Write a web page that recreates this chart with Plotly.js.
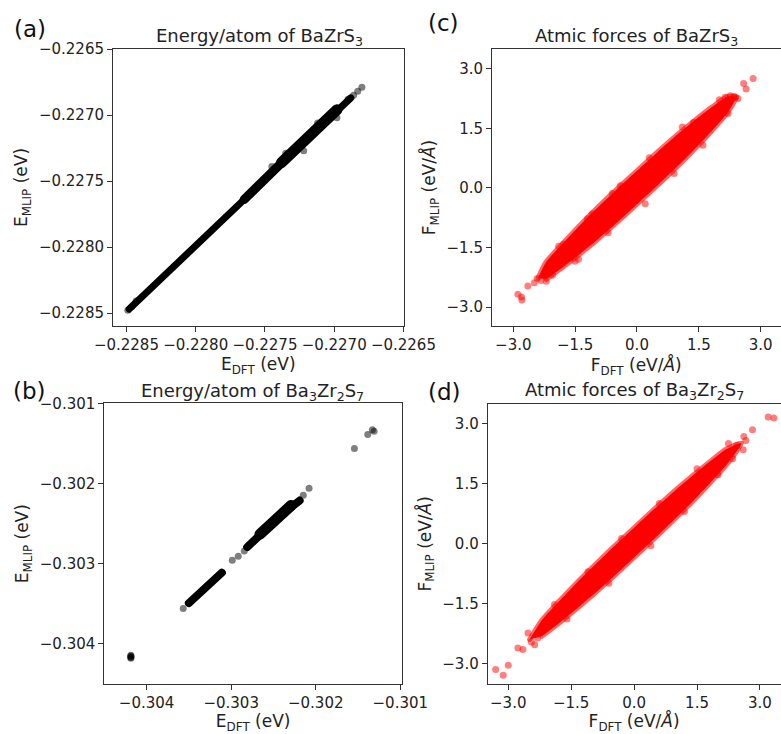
<!DOCTYPE html>
<html><head><meta charset="utf-8">
<script src="https://cdn.plot.ly/plotly-3.0.1.min.js"></script>
<style>
html,body{margin:0;padding:0;background:#fff}
.js-line{stroke-linecap:round !important;stroke-linejoin:round !important}
</style>
</head><body><div id="chart" style="width:781px;height:734px"></div>
<script>
// ---------- (a) Energy/atom of BaZrS3 ----------
const aCoreX = [-0.22848, -0.2282, -0.2279, -0.2276, -0.2274, -0.2272, -0.2270, -0.22688];
const aCoreY = [-0.22847, -0.22819, -0.22789, -0.22759, -0.22739, -0.22719, -0.22699, -0.22687];
const aMidX = [-0.22765, -0.22745, -0.22730];
const aMidY = [-0.22764, -0.22743, -0.22728];
const aWideX = [-0.22738, -0.22725, -0.22710, -0.22698];
const aWideY = [-0.22736, -0.22723, -0.22708, -0.22696];
const aPtsX = [-0.22849, -0.22846, -0.22843, -0.22680, -0.22683, -0.22686, -0.22690, -0.22722, -0.22735, -0.22712, -0.22745, -0.22698];
const aPtsY = [-0.22848, -0.22845, -0.22841, -0.22679, -0.22682, -0.22685, -0.22688, -0.22727, -0.22729, -0.22706, -0.22739, -0.22702];

// ---------- (b) Energy/atom of Ba3Zr2S7 ----------
const bSeg1X = [-0.30350, -0.30330, -0.30311];
const bSeg1Y = [-0.30349, -0.30330, -0.30311];
const bSeg2X = [-0.30281, -0.30260, -0.30240, -0.30219];
const bSeg2Y = [-0.30279, -0.30258, -0.30238, -0.30221];
const bWideX = [-0.30266, -0.30229];
const bWideY = [-0.30263, -0.30227];
const bPtsX = [-0.303567, -0.302987, -0.302916, -0.302845, -0.302147, -0.302079, -0.301543, -0.301385, -0.30133, -0.30131];
const bPtsY = [-0.303556, -0.302954, -0.302904, -0.302838, -0.302144, -0.302057, -0.301559, -0.301385, -0.301326, -0.301344];
const bClusterX = [-0.304186, -0.304186, -0.304186, -0.304186, -0.304186];
const bClusterY = [-0.30414, -0.30415, -0.30416, -0.30417, -0.30418];

// ---------- (c) Atmic forces of BaZrS3 (dense core outline + scattered points) ----------
const cOutlineX = [-2.40, -2.20, -1.80, -1.40, -1.00, -0.50, 0.00, 0.50, 1.00, 1.40, 1.80, 2.20, 2.40,
                   2.20, 1.80, 1.40, 1.00, 0.50, 0.00, -0.50, -1.00, -1.40, -1.80, -2.20];
const cOutlineY = [-2.27, -1.86, -1.40, -0.96, -0.54, -0.045, 0.43, 0.905, 1.36, 1.70, 2.02, 2.30, 2.29,
                   1.90, 1.42, 0.98, 0.56, 0.065, -0.41, -0.885, -1.34, -1.68, -2.00, -2.30];
const cPtsX = [2.587, 2.816, 2.646, -2.888, -2.791, -2.80, -2.646, -2.49, -2.33, -1.78, -1.417, -1.62, -0.405, 1.374, 2.21, 2.14, 2.26, 2.39, -1.09, 2.35, 2.45, -2.42, -2.20,
               -1.9, -1.2, -0.6, 0.3, 1.1, -1.5, -0.7, 0.2, 0.9, 1.6, 2.0, -2.05];
const cPtsY = [2.629, 2.755, 2.488, -2.680, -2.823, -2.75, -2.47, -2.39, -2.33, -1.42, -1.80, -1.76, 0.05, 1.646, 1.87, 2.28, 2.32, 2.28, -0.66, 2.30, 2.25, -2.28, -2.35,
               -1.47, -0.78, -0.14, 0.76, 1.53, -1.85, -1.13, -0.40, 0.36, 1.07, 2.22, -2.20];

// ---------- (d) Atmic forces of Ba3Zr2S7 ----------
const dOutlineX = [-2.49, -2.20, -1.80, -1.40, -1.00, -0.50, 0.00, 0.50, 1.00, 1.40, 1.80, 2.20, 2.56,
                   2.20, 1.80, 1.40, 1.00, 0.50, 0.00, -0.50, -1.00, -1.40, -1.80, -2.20];
const dOutlineY = [-2.39, -1.91, -1.45, -1.01, -0.595, -0.09, 0.395, 0.88, 1.345, 1.70, 2.04, 2.36, 2.51,
                   1.96, 1.50, 1.06, 0.645, 0.14, -0.345, -0.83, -1.295, -1.65, -1.99, -2.31];
const dPtsX = [3.196, 3.332, 2.823, 2.616, 2.664, 2.60, 2.45, -3.30, -3.12, -3.00, -2.77, -2.65, -2.53, -2.37, -2.45, -2.30,
               -1.9, -1.1, -0.3, 0.6, 1.5, -1.6, -0.6, 0.4, 1.2, 2.0, 2.35, 2.25];
const dPtsY = [3.157, 3.132, 2.841, 2.674, 2.574, 2.342, 2.45, -3.14, -3.28, -3.03, -2.60, -2.64, -2.23, -2.52, -2.45, -2.35,
               -1.52, -0.70, 0.13, 1.00, 1.87, -1.88, -0.99, -0.05, 0.80, 1.72, 2.12, 2.50];

const cTicks = [-3.0, -1.5, 0.0, 1.5, 3.0];

const FONT = 'DejaVu Sans';
const black = 'rgba(0,0,0,0.5)';
const red = 'rgba(255,0,0,0.5)';

const data = [
  {x: aCoreX, y: aCoreY, xaxis: 'x', yaxis: 'y', mode: 'lines', line: {color: '#000', width: 7}, hoverinfo: 'skip'},
  {x: aMidX, y: aMidY, xaxis: 'x', yaxis: 'y', mode: 'lines', line: {color: '#000', width: 9}, hoverinfo: 'skip'},
  {x: aWideX, y: aWideY, xaxis: 'x', yaxis: 'y', mode: 'lines', line: {color: '#000', width: 11}, hoverinfo: 'skip'},
  {x: aPtsX, y: aPtsY, xaxis: 'x', yaxis: 'y', mode: 'markers', marker: {color: black, size: 7}},

  {x: cOutlineX, y: cOutlineY, xaxis: 'x2', yaxis: 'y2', mode: 'lines', fill: 'toself', fillcolor: '#ff0000', line: {color: 'rgba(255,0,0,0.6)', width: 5, shape: 'spline', smoothing: 0.6}, hoverinfo: 'skip'},
  {x: cPtsX, y: cPtsY, xaxis: 'x2', yaxis: 'y2', mode: 'markers', marker: {color: red, size: 7}},

  {x: bSeg1X, y: bSeg1Y, xaxis: 'x3', yaxis: 'y3', mode: 'lines', line: {color: '#000', width: 8}, hoverinfo: 'skip'},
  {x: bSeg2X, y: bSeg2Y, xaxis: 'x3', yaxis: 'y3', mode: 'lines', line: {color: '#000', width: 8}, hoverinfo: 'skip'},
  {x: bWideX, y: bWideY, xaxis: 'x3', yaxis: 'y3', mode: 'lines', line: {color: '#000', width: 11}, hoverinfo: 'skip'},
  {x: bPtsX, y: bPtsY, xaxis: 'x3', yaxis: 'y3', mode: 'markers', marker: {color: black, size: 7}},
  {x: bClusterX, y: bClusterY, xaxis: 'x3', yaxis: 'y3', mode: 'markers', marker: {color: black, size: 7}},

  {x: dOutlineX, y: dOutlineY, xaxis: 'x4', yaxis: 'y4', mode: 'lines', fill: 'toself', fillcolor: '#ff0000', line: {color: 'rgba(255,0,0,0.6)', width: 5, shape: 'spline', smoothing: 0.6}, hoverinfo: 'skip'},
  {x: dPtsX, y: dPtsY, xaxis: 'x4', yaxis: 'y4', mode: 'markers', marker: {color: red, size: 7}}
];

const baseAxis = {
  showline: true, linecolor: '#333', linewidth: 1, mirror: true,
  ticks: 'outside', ticklen: 5, tickwidth: 1, tickcolor: '#333',
  showgrid: false, zeroline: false,
  tickfont: {family: FONT, size: 15, color: '#222'},
  automargin: false
};
const ax = (o) => Object.assign({}, baseAxis, o);
const tfont = {family: FONT, size: 17, color: '#222'};

const layout = {
  width: 781, height: 734,
  margin: {l: 0, r: 0, t: 0, b: 0},
  paper_bgcolor: '#fff', plot_bgcolor: '#fff',
  showlegend: false,
  font: {family: FONT, size: 15, color: '#222'},
  xaxis: ax({domain: [0.14469, 0.51665], anchor: 'y', range: [-0.228597, -0.2264995], tick0: -0.2285, dtick: 0.0005, tickformat: '.4f',
    title: {text: 'E<sub>DFT</sub> (eV)', font: tfont, standoff: 3}}),
  yaxis: ax({domain: [0.55586, 0.93324], anchor: 'x', range: [-0.2285985, -0.2264995], tick0: -0.2285, dtick: 0.0005, tickformat: '.4f',
    title: {text: 'E<sub>MLIP</sub> (eV)', font: tfont, standoff: 6}}),
  xaxis2: ax({domain: [0.62996, 0.99936], anchor: 'y2', range: [-3.516, 3.48], tickvals: cTicks, tickformat: '.1f',
    title: {text: 'F<sub>DFT</sub> (eV/<i>Å</i>)', font: tfont, standoff: 3}}),
  yaxis2: ax({domain: [0.55586, 0.93324], anchor: 'x2', range: [-3.478, 3.496], tickvals: cTicks, tickformat: '.1f',
    title: {text: 'F<sub>MLIP</sub> (eV/<i>Å</i>)', font: tfont, standoff: 6}}),
  xaxis3: ax({domain: [0.13355, 0.51472], anchor: 'y3', range: [-0.3045, -0.30098], tick0: -0.304, dtick: 0.001, tickformat: '.3f',
    title: {text: 'E<sub>DFT</sub> (eV)', font: tfont, standoff: 3}}),
  yaxis3: ax({domain: [0.06812, 0.45054], anchor: 'x3', range: [-0.3045, -0.300995], tick0: -0.304, dtick: 0.001, tickformat: '.3f',
    title: {text: 'E<sub>MLIP</sub> (eV)', font: tfont, standoff: 6}}),
  xaxis4: ax({domain: [0.62446, 0.99936], anchor: 'y4', range: [-3.49, 3.49], tickvals: cTicks, tickformat: '.1f',
    title: {text: 'F<sub>DFT</sub> (eV/<i>Å</i>)', font: tfont, standoff: 3}}),
  yaxis4: ax({domain: [0.06812, 0.45000], anchor: 'x4', range: [-3.5, 3.49], tickvals: cTicks, tickformat: '.1f',
    title: {text: 'F<sub>MLIP</sub> (eV/<i>Å</i>)', font: tfont, standoff: 6}}),
  annotations: [
    {text: 'Energy/atom of BaZrS<sub>3</sub>', x: 259.5/781, y: 1 - 36.7/734},
    {text: 'Atmic forces of BaZrS<sub>3</sub>', x: 636.7/781, y: 1 - 36.7/734},
    {text: 'Energy/atom of Ba<sub>3</sub>Zr<sub>2</sub>S<sub>7</sub>', x: 252/781, y: 1 - 391.7/734},
    {text: 'Atmic forces of Ba<sub>3</sub>Zr<sub>2</sub>S<sub>7</sub>', x: 634.7/781, y: 1 - 390.7/734}
  ].map(a => Object.assign({xref: 'paper', yref: 'paper', xanchor: 'center', yanchor: 'middle', showarrow: false,
    font: {family: FONT, size: 18, color: '#222'}}, a)).concat([
    {text: '(a)', x: 30/781, y: 1 - 29/734},
    {text: '(c)', x: 443/781, y: 1 - 23/734},
    {text: '(b)', x: 30/781, y: 1 - 391/734},
    {text: '(d)', x: 445/781, y: 1 - 392/734}
  ].map(a => Object.assign({xref: 'paper', yref: 'paper', xanchor: 'center', yanchor: 'middle', showarrow: false,
    font: {family: FONT, size: 23, color: '#111'}}, a)))
};

Plotly.newPlot('chart', data, layout, {displayModeBar: false, staticPlot: true});
</script></body></html>
